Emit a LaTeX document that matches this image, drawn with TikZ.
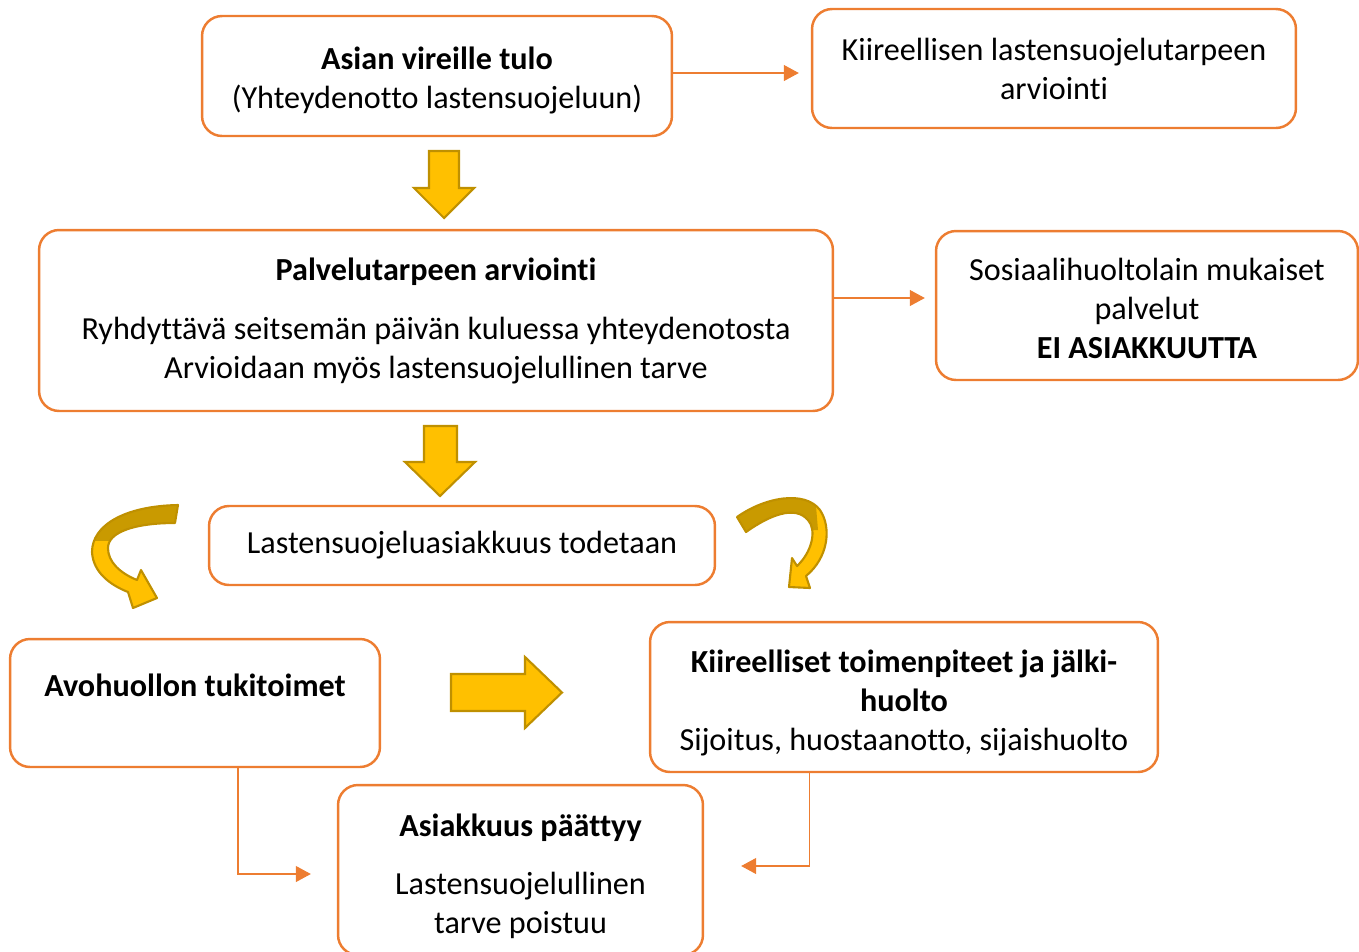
\documentclass[tikz,border=0pt]{standalone}
\usepackage{fontspec}
\setmainfont{Carlito}[Ligatures=NoCommon]
\usetikzlibrary{arrows.meta}
\definecolor{oranssi}{HTML}{ED7D31}
\definecolor{keltainen}{HTML}{FFC000}
\definecolor{kulta}{HTML}{BF9000}
\definecolor{tummakulta}{HTML}{C99A00}
\newcommand{\alas}[1]{\rule{0pt}{#1}}
\tikzset{
  laatikko/.style={draw=oranssi, line width=1.4pt, rounded corners=0.4cm, fill=white,
    align=center, inner sep=0pt, font=\fontsize{18.3}{22.2}\selectfont},
  yhteys/.style={draw=oranssi, line width=0.6pt, -{Triangle[length=0.3cm,width=0.32cm]}},
  nuoli/.style={fill=keltainen, draw=kulta, line width=1.2pt, line join=miter},
}
\begin{document}
\begin{tikzpicture}[x=0.02cm, y=-0.02cm]
    \useasboundingbox (0,0) rectangle (1359,951);

    % laatikot
    \node[laatikko, minimum width=9.4cm, minimum height=2.4cm] (vireille) at (437,76)
      {\alas{0.62cm}\textbf{Asian vireille tulo}\\(Yhteydenotto lastensuojeluun)};
    \node[laatikko, minimum width=9.68cm, minimum height=2.38cm] (kiireellinen) at (1054,68.5)
      {\alas{0.46cm}Kiireellisen lastensuojelutarpeen\\arviointi};
    \node[laatikko, minimum width=15.88cm, minimum height=3.62cm] (palvelu) at (436,320.5)
      {\alas{0.48cm}\textbf{Palvelutarpeen arviointi}\\[0.4cm]Ryhdyttävä seitsemän päivän kuluessa yhteydenotosta\\Arvioidaan myös lastensuojelullinen tarve};
    \node[laatikko, minimum width=8.44cm, minimum height=2.98cm] (sosiaali) at (1147,305.5)
      {\alas{0.58cm}Sosiaalihuoltolain mukaiset\\palvelut\\\textbf{EI ASIAKKUUTTA}};
    \node[laatikko, minimum width=10.12cm, minimum height=1.58cm] (todetaan) at (462,545.5)
      {Lastensuojeluasiakkuus todetaan};
    \node[laatikko, minimum width=7.4cm, minimum height=2.56cm] (avohuolto) at (195,703)
      {\alas{0.74cm}\textbf{Avohuollon tukitoimet}\\\strut};
    \node[laatikko, minimum width=10.16cm, minimum height=3.0cm] (toimenpiteet) at (904,697)
      {\alas{0.68cm}\textbf{Kiireelliset toimenpiteet ja jälki-}\\\textbf{huolto}\\Sijoitus, huostaanotto, sijaishuolto};
    \node[laatikko, minimum width=7.3cm, minimum height=3.4cm] (paattyy) at (520.5,870)
      {\alas{0.72cm}\textbf{Asiakkuus päättyy}\\[0.38cm]Lastensuojelullinen\\tarve poistuu};

    % ohuet nuolet
    \draw[yhteys, shorten >=0.24cm] ([yshift=0.06cm]vireille.east) -- ([yshift=0.06cm]vireille.east -| kiireellinen.west);
    \draw[yhteys, shorten >=0.2cm] ([yshift=0.45cm]palvelu.east) -- ([yshift=0.45cm]palvelu.east -| sosiaali.west);
    \draw[yhteys, shorten >=0.52cm] ([xshift=0.86cm]avohuolto.south) |- ([yshift=-0.08cm]paattyy.west);
    \draw[yhteys, shorten >=0.74cm] ([xshift=-1.9cm]toimenpiteet.south) |- ([yshift=0.08cm]paattyy.east);

    % isot nuolet
    \draw[nuoli] (429,151) -- (459,151) -- (459,188) -- (474,188) -- (444,218) -- (414,188) -- (429,188) -- cycle;
    \draw[nuoli] (424,426) -- (457,426) -- (457,462) -- (475,462) -- (440,496) -- (405,462) -- (424,462) -- cycle;
    \draw[nuoli] (451,674) -- (525,674) -- (525,657) -- (562,692.5) -- (525,728) -- (525,711) -- (451,711) -- cycle;

    % kaarevat nuolet
    \def\vasenkaari{(178,505) .. controls (125,506) and (92,525) .. (92,552) .. controls (93,572) and (110,585) .. (128,592)
      -- (133,608) -- (157,598) -- (141,570) -- (137,580) .. controls (120,573) and (108,562) .. (108,548)
      .. controls (108,532) and (135,523) .. (175,523) -- cycle}
    \fill[keltainen] \vasenkaari;
    \begin{scope}
      \clip (60,480) rectangle (200,540);
      \fill[tummakulta] \vasenkaari;
    \end{scope}
    \draw[kulta, line width=1.2pt, line join=round] \vasenkaari;

    \def\oikeakaari{(737,517) .. controls (765,497) and (805,490) .. (820,510) .. controls (832,528) and (828,558) .. (806,576)
      -- (810,588) -- (789,587) -- (792,558) -- (797,566) .. controls (812,552) and (817,530) .. (808,520)
      .. controls (795,505) and (770,515) .. (746,532) -- cycle}
    \fill[keltainen] \oikeakaari;
    \begin{scope}
      \clip (700,470) -- (813,470) -- (818,530) -- (700,530) -- cycle;
      \fill[tummakulta] \oikeakaari;
    \end{scope}
    \draw[kulta, line width=1.2pt, line join=round] \oikeakaari;
\end{tikzpicture}
\end{document}
